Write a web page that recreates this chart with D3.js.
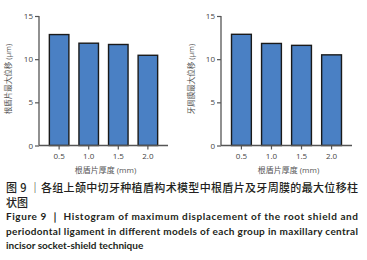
<!DOCTYPE html>
<html>
<head>
<meta charset="utf-8">
<script src="https://cdn.jsdelivr.net/npm/d3@7"></script>
<style>
  body { margin: 0; background: #fff; }
  svg text { font-family: "Open Sans", "Noto Sans CJK SC", sans-serif; }
</style>
</head>
<body>
<div id="wrapper"></div>
<script>
const categories = ['0.5', '1.0', '1.5', '2.0'];
const rootShieldValues = [12.85, 11.85, 11.7, 10.45];
const pdlValues = [12.88, 11.82, 11.6, 10.5];
const yTicks = [0, 5, 10, 15];
const xTitle = '根盾片厚度 (mm)';
const yTitles = ['根盾片最大位移 (μm)', '牙周膜最大位移 (μm)'];
const captionLines = [
  { text: '图 9 ｜各组上颌中切牙种植盾构术模型中根盾片及牙周膜的最大位移柱', justify: true, cn: true },
  { text: '状图', justify: false, cn: true },
  { text: 'Figure 9  ｜  Histogram of maximum displacement of the root shield and', justify: true },
  { text: 'periodontal ligament in different models of each group in maxillary central', justify: true },
  { text: 'incisor socket-shield technique', justify: false }
];

const width = 367, height = 260;
const svg = d3.select('#wrapper').append('svg').attr('width', width).attr('height', height);

const panels = [
  { values: rootShieldValues, title: yTitles[0], left: 39, right: 168, titleX: 8 },
  { values: pdlValues, title: yTitles[1], left: 221, right: 352, titleX: 191 }
];

const y = d3.scaleLinear().domain([0, 15]).range([145.5, 16]);

panels.forEach((p) => {
  const g = svg.append('g');
  const x = d3.scaleBand().domain(categories).range([p.left, p.right]).paddingInner(0.34).paddingOuter(0.35);

  // bars
  g.selectAll('rect')
    .data(p.values)
    .join('rect')
    .attr('x', (d, i) => x(categories[i]))
    .attr('y', (d) => y(d))
    .attr('width', x.bandwidth())
    .attr('height', (d) => y(0) - y(d))
    .attr('fill', '#4a80c4')
    .attr('stroke', '#1a1a1a')
    .attr('stroke-width', 1.4);

  const yAxis = g.append('g')
    .attr('transform', `translate(${p.left},0)`)
    .call(d3.axisLeft(y).tickValues(yTicks).tickSize(4).tickPadding(2));
  const xAxis = g.append('g')
    .attr('transform', `translate(0,${y(0)})`)
    .call(d3.axisBottom(x).tickSize(4).tickPadding(4));

  [yAxis, xAxis].forEach((a) => {
    a.select('.domain').attr('stroke', '#555').attr('stroke-width', 1.3);
    a.selectAll('.tick line').attr('stroke', '#555').attr('stroke-width', 1.2);
    a.selectAll('.tick text').attr('fill', '#444').style('font-size', '8px');
  });
  yAxis.select('.domain').attr('d', `M0,${y(15)}V${y(0)}`);
  xAxis.select('.domain').attr('d', `M${p.left},0H${p.right}`);

  g.append('text')
    .attr('x', (p.left + p.right) / 2 + 2)
    .attr('y', 173)
    .attr('text-anchor', 'middle')
    .attr('fill', '#555')
    .style('font-size', '8px')
    .text(xTitle);

  g.append('text')
    .attr('transform', `translate(${p.titleX},79) rotate(-90)`)
    .attr('text-anchor', 'middle')
    .attr('dy', '0.35em')
    .attr('fill', '#555')
    .style('font-size', '7.5px')
    .text(p.title);
});

// caption
const baselines = [192, 206.5, 220, 234.5, 248.5];
captionLines.forEach((line, i) => {
  const t = svg.append('text')
    .attr('x', 6)
    .attr('y', baselines[i])
    .attr('fill', '#231f20')
    .style('font-size', line.cn ? '11px' : '10px')
    .style('font-weight', line.cn ? 500 : 700)
    .style('font-family', line.cn ? '"Noto Sans CJK SC", sans-serif' : 'Lato, sans-serif')
    .text(line.text);
  if (line.justify) t.attr('textLength', 352).attr('lengthAdjust', 'spacing');
});
</script>
</body>
</html>
